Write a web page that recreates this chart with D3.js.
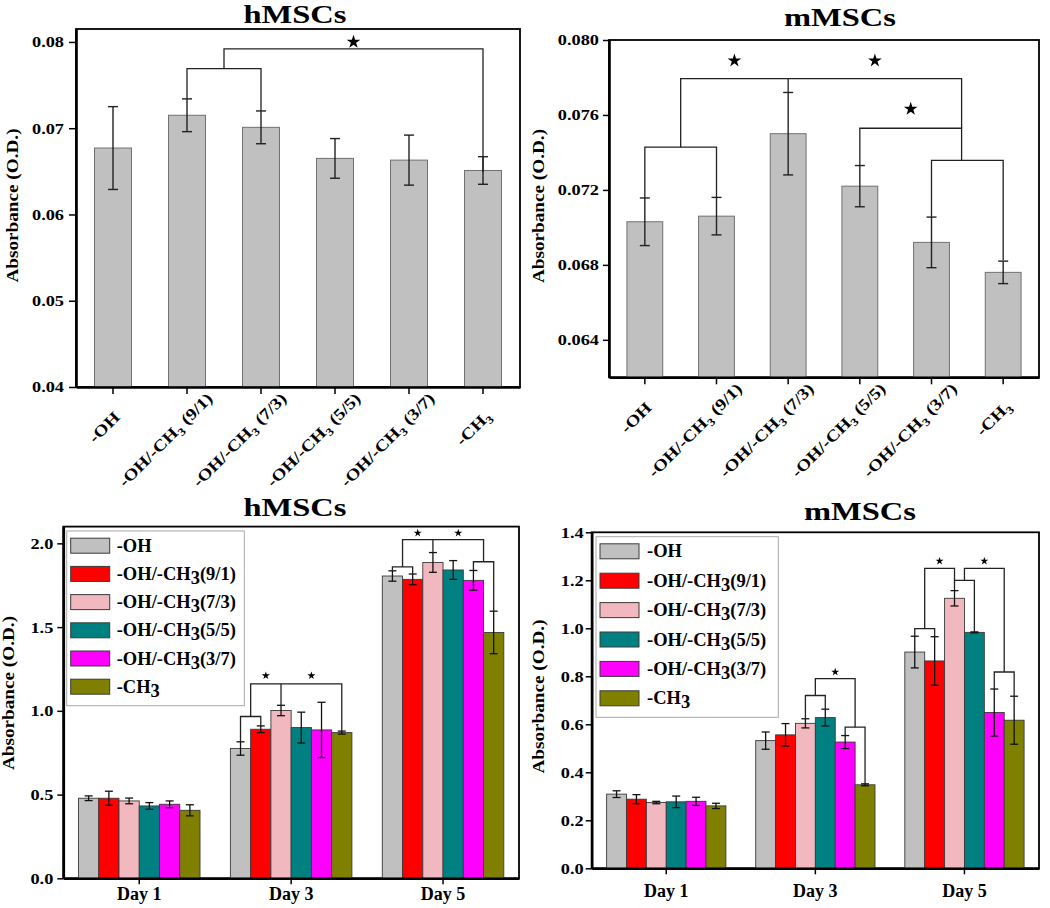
<!DOCTYPE html>
<html><head><meta charset="utf-8">
<script src="https://cdn.jsdelivr.net/npm/d3@7"></script>
<style>
body{margin:0;background:#fff}
svg{display:block}
text{font-family:"Liberation Serif","Times New Roman",serif;font-weight:bold;fill:#000}
</style>
</head><body>
<svg id="c" width="1050" height="908"></svg>
<script>
// ---------------- data ----------------
const categories = ["-OH","-OH/-CH3 (9/1)","-OH/-CH3 (7/3)","-OH/-CH3 (5/5)","-OH/-CH3 (3/7)","-CH3"];
const legendLabels = ["-OH","-OH/-CH3(9/1)","-OH/-CH3(7/3)","-OH/-CH3(5/5)","-OH/-CH3(3/7)","-CH3"];
const days = ["Day 1","Day 3","Day 5"];
const seriesColors = ["#c0c0c0","#ff0000","#f2b8c0","#008080","#ff00ff","#808000"];
const yTitle = "Absorbance (O.D.)";

// top panels (single series)
const hTopMean = [0.0677, 0.0715, 0.0701, 0.0665, 0.0663, 0.0651];
const hTopErr  = [0.0048, 0.0019, 0.0019, 0.0023, 0.0029, 0.0016];
const hTopTicks = [0.04, 0.05, 0.06, 0.07, 0.08];
const mTopMean = [0.0703, 0.0706, 0.0750, 0.0722, 0.0692, 0.0676];
const mTopErr  = [0.00127, 0.0010, 0.0022, 0.0011, 0.00135, 0.0006];
const mTopTicks = [0.064, 0.068, 0.072, 0.076, 0.080];

// bottom panels (grouped by day, 6 series)
const hDay1Mean = [0.478, 0.478, 0.462, 0.432, 0.442, 0.406];
const hDay1Err  = [0.014, 0.042, 0.017, 0.020, 0.020, 0.033];
const hDay3Mean = [0.775, 0.890, 1.002, 0.900, 0.886, 0.870];
const hDay3Err  = [0.040, 0.020, 0.031, 0.092, 0.165, 0.009];
const hDay5Mean = [1.805, 1.785, 1.886, 1.841, 1.779, 1.468];
const hDay5Err  = [0.031, 0.032, 0.059, 0.056, 0.059, 0.127];
const hBottomTicks = [0.0, 0.5, 1.0, 1.5, 2.0];

const mDay1Mean = [0.309, 0.288, 0.274, 0.277, 0.279, 0.260];
const mDay1Err  = [0.014, 0.019, 0.005, 0.024, 0.017, 0.011];
const mDay3Mean = [0.532, 0.556, 0.604, 0.628, 0.526, 0.348];
const mDay3Err  = [0.036, 0.047, 0.019, 0.035, 0.027, 0.004];
const mDay5Mean = [0.901, 0.864, 1.125, 0.983, 0.649, 0.617];
const mDay5Err  = [0.066, 0.101, 0.032, 0.002, 0.098, 0.100];
const mBottomTicks = [0.0, 0.2, 0.4, 0.6, 0.8, 1.0, 1.2, 1.4];

// significance brackets: x1,x2 = bar index (fractional = between bars), y = bracket level, b1/b2 = leg ends
const hTopBrackets = [
  {x1:1, x2:2, y:0.0769, b1:0.0734, b2:0.0720, drops:[]},
  {x1:1.5, x2:5, y:0.0792, b1:0.0769, b2:0.0649, drops:[]}
];
const hTopStars = [[3.25, 0.0800]];
const mTopBrackets = [
  {x1:0, x2:1, y:0.07428, b1:0.07156, b2:0.07159, drops:[]},
  {x1:4, x2:5, y:0.07358, b1:0.07056, b2:0.06825, drops:[]},
  {x1:3, x2:4.42, y:0.07529, b1:0.07332, b2:0.07358, drops:[]},
  {x1:0.5, x2:4.42, y:0.07794, b1:0.07428, b2:0.07529, drops:[[2, 0.07721]]}
];
const mTopStars = [[1.25, 0.0789], [3.21, 0.0789], [3.71, 0.07632]];

const hBottomBrackets = [
  {g:1, x1:0, x2:1, y:0.966, b1:0.815, b2:0.910, drops:[]},
  {g:1, x1:0.5, x2:5, y:1.161, b1:0.966, b2:0.879, drops:[[2, 1.033]]},
  {g:2, x1:0, x2:1, y:1.859, b1:1.836, b2:1.817, drops:[]},
  {g:2, x1:4, x2:5, y:1.890, b1:1.838, b2:1.595, drops:[]},
  {g:2, x1:0.5, x2:4.5, y:2.022, b1:1.859, b2:1.890, drops:[[2, 1.945]]}
];
const hBottomStars = [[1, 1.25, 1.21], [1, 3.5, 1.21], [2, 1.25, 2.062], [2, 3.25, 2.062]];
const mBottomBrackets = [
  {g:1, x1:2, x2:3, y:0.720, b1:0.623, b2:0.663, drops:[]},
  {g:1, x1:4, x2:5, y:0.588, b1:0.553, b2:0.352, drops:[]},
  {g:1, x1:2.5, x2:4.5, y:0.790, b1:0.720, b2:0.588, drops:[]},
  {g:2, x1:0, x2:1, y:0.999, b1:0.967, b2:0.965, drops:[]},
  {g:2, x1:2, x2:3, y:1.200, b1:1.157, b2:0.985, drops:[]},
  {g:2, x1:4, x2:5, y:0.818, b1:0.747, b2:0.717, drops:[]},
  {g:2, x1:0.5, x2:2, y:1.250, b1:0.999, b2:1.200, drops:[]},
  {g:2, x1:2.5, x2:4.5, y:1.250, b1:1.200, b2:0.818, drops:[]}
];
const mBottomStars = [[1, 3.5, 0.818], [2, 1.25, 1.28], [2, 3.5, 1.28]];

// ---------------- helpers ----------------
const svg = d3.select("#c");

function stretch(el, k){
  const L = el.getComputedTextLength();
  el.setAttribute("textLength", L * k);
  el.setAttribute("lengthAdjust", "spacingAndGlyphs");
  return L * k;
}
function addChem(t, str, subSize, shift){
  const parts = str.split(/(?<=CH)3/);
  parts.forEach((p, i) => {
    if (i > 0) {
      const s = t.append("tspan").attr("dy", shift).text("3");
      if (subSize) s.style("font-size", subSize);
      if (p) t.append("tspan").attr("dy", -shift).text(p);
    } else if (p) {
      t.append("tspan").text(p);
    }
  });
}
function styleAxis(a, domainW){
  a.attr("font-family", null).attr("font-size", null);
  a.select(".domain").attr("stroke", "#000").attr("stroke-width", domainW);
  a.selectAll(".tick line").attr("stroke", "#000").attr("stroke-width", 1.5);
}
function yAxisAndTitles(c, y){
  const a = svg.append("g").attr("transform", `translate(${c.L},0)`)
    .call(d3.axisLeft(y).tickValues(c.ticks).tickFormat(d3.format(c.fmt))
      .tickSize(c.tickLen).tickPadding(c.tickPad).tickSizeOuter(0));
  styleAxis(a, 2.6);
  a.selectAll(".tick text").style("font-size", "15.5px").each(function(){ stretch(this, 1.18); });
  const yl = svg.append("text").attr("transform", `translate(${c.ylx},${c.yly}) rotate(-90)`)
    .attr("text-anchor", "middle").style("font-size", "16px").text(yTitle);
  stretch(yl.node(), 1.2);
  const tt = svg.append("text").attr("x", c.tx).attr("y", c.ty).attr("text-anchor", "middle")
    .style("font-size", "26px").text(c.title);
  stretch(tt.node(), 1.25);
}
function star(g, x, y, size){
  g.append("path").attr("d", d3.symbol(d3.symbolStar).size(size)())
    .attr("transform", `translate(${x},${y})`).attr("fill", "#000");
}
function drawBrackets(g, list, xf, y){
  list.forEach(b => {
    const x1 = xf(b), x2 = xf({...b, x1:b.x2});
    g.append("path")
      .attr("d", `M${x1},${y(b.b1)}V${y(b.y)}H${x2}V${y(b.b2)}`)
      .attr("fill", "none").attr("stroke", "#222").attr("stroke-width", 1.3);
    b.drops.forEach(dp => {
      const xd = xf({...b, x1:dp[0]});
      g.append("path").attr("d", `M${xd},${y(b.y)}V${y(dp[1])}`)
        .attr("fill", "none").attr("stroke", "#222").attr("stroke-width", 1.3);
    });
  });
}

// ---------------- top panels ----------------
function drawTop(c){
  const g = svg.append("g");
  const x = d3.scaleBand().domain(d3.range(categories.length)).range([c.L, c.R]).paddingInner(0.5).paddingOuter(0.25);
  const y = d3.scaleLinear().domain(c.domain).range([c.B, c.T]);
  const bw = x.bandwidth(), step = x.step();
  const xc = s => x(0) + bw / 2 + s * step;

  g.append("rect").attr("x", c.L).attr("y", c.T).attr("width", c.R - c.L).attr("height", c.B - c.T)
    .attr("fill", "none").attr("stroke", "#000").attr("stroke-width", 1.8);

  g.selectAll(null).data(c.mean).join("rect")
    .attr("x", (d, i) => x(i)).attr("y", d => y(d)).attr("width", bw)
    .attr("height", d => y(c.domain[0]) - y(d))
    .attr("fill", seriesColors[0]).attr("stroke", "#707070").attr("stroke-width", 1);

  const eb = g.selectAll(null).data(c.mean.map((m, i) => ({m, e:c.err[i], i}))).join("g");
  eb.append("line").attr("x1", d => xc(d.i)).attr("x2", d => xc(d.i))
    .attr("y1", d => y(d.m - d.e)).attr("y2", d => y(d.m + d.e));
  eb.append("line").attr("x1", d => xc(d.i) - 5).attr("x2", d => xc(d.i) + 5)
    .attr("y1", d => y(d.m + d.e)).attr("y2", d => y(d.m + d.e));
  eb.append("line").attr("x1", d => xc(d.i) - 5).attr("x2", d => xc(d.i) + 5)
    .attr("y1", d => y(d.m - d.e)).attr("y2", d => y(d.m - d.e));
  eb.selectAll("line").attr("stroke", "#222").attr("stroke-width", 1.4);

  drawBrackets(g, c.brackets, b => xc(b.x1), y);
  c.stars.forEach(s => star(g, xc(s[0]), y(s[1]), 58));

  const xa = svg.append("g").attr("transform", `translate(0,${c.B})`)
    .call(d3.axisBottom(x).tickSize(7).tickSizeOuter(0));
  styleAxis(xa, 2.6);
  xa.selectAll(".tick text").each(function(d){
    const t = d3.select(this);
    t.text(null).attr("y", null).attr("dy", null).attr("text-anchor", "start").style("font-size", "16px");
    addChem(t, categories[d], "11px", 4);
    const L = stretch(this, 1.2);
    t.attr("x", -0.7 * L).attr("transform", `translate(0,39) rotate(-45)`);
  });
  yAxisAndTitles(c, y);
}

drawTop({L:76, R:520, T:29, B:387, domain:[0.04, 0.0815], ticks:hTopTicks, fmt:".2f",
  tickLen:7, tickPad:5, mean:hTopMean, err:hTopErr, brackets:hTopBrackets, stars:hTopStars,
  title:"hMSCs", tx:295, ty:22.5, ylx:17.5, yly:205.5});
drawTop({L:609, R:1039, T:40, B:377.3, domain:[0.062, 0.080], ticks:mTopTicks, fmt:".3f",
  tickLen:6, tickPad:4, mean:mTopMean, err:mTopErr, brackets:mTopBrackets, stars:mTopStars,
  title:"mMSCs", tx:840, ty:26, ylx:544, yly:206});

// ---------------- bottom panels ----------------
function drawBottom(c){
  const g = svg.append("g");
  const x0 = d3.scaleBand().domain(days).range([c.L, c.R]).paddingInner(0.2).paddingOuter(0.1);
  const x1 = d3.scaleBand().domain(d3.range(legendLabels.length)).range([0, x0.bandwidth()]);
  const y = d3.scaleLinear().domain(c.domain).range([c.B, c.T]);
  const bw = x1.bandwidth();
  const xs = (gi, s) => x0(days[gi]) + bw * (s + 0.5);

  g.append("rect").attr("x", c.L).attr("y", c.T).attr("width", c.R - c.L).attr("height", c.B - c.T)
    .attr("fill", "none").attr("stroke", "#000").attr("stroke-width", 1.8);

  const flat = [];
  c.means.forEach((arr, gi) => arr.forEach((m, s) => flat.push({gi, s, m, e:c.errs[gi][s]})));

  g.selectAll(null).data(flat).join("rect")
    .attr("x", d => x0(days[d.gi]) + x1(d.s)).attr("y", d => y(d.m))
    .attr("width", bw).attr("height", d => y(0) - y(d.m))
    .attr("fill", d => seriesColors[d.s]).attr("stroke", "#3a3a3a").attr("stroke-width", 0.9);

  const eb = g.selectAll(null).data(flat).join("g");
  eb.append("line").attr("x1", d => xs(d.gi, d.s)).attr("x2", d => xs(d.gi, d.s))
    .attr("y1", d => y(d.m - d.e)).attr("y2", d => y(d.m + d.e));
  eb.append("line").attr("x1", d => xs(d.gi, d.s) - 4).attr("x2", d => xs(d.gi, d.s) + 4)
    .attr("y1", d => y(d.m + d.e)).attr("y2", d => y(d.m + d.e));
  eb.append("line").attr("x1", d => xs(d.gi, d.s) - 4).attr("x2", d => xs(d.gi, d.s) + 4)
    .attr("y1", d => y(d.m - d.e)).attr("y2", d => y(d.m - d.e));
  eb.selectAll("line").attr("stroke", "#111").attr("stroke-width", 1.3);

  drawBrackets(g, c.brackets, b => xs(b.g, b.x1), y);
  c.stars.forEach(s => star(g, xs(s[0], s[1]), y(s[2]), 20));

  const xa = svg.append("g").attr("transform", `translate(0,${c.B})`)
    .call(d3.axisBottom(x0).tickSize(6).tickSizeOuter(0));
  styleAxis(xa, 2.6);
  xa.selectAll(".tick text").attr("dy", null).attr("y", c.dayY).style("font-size", "18px");

  // legend
  const lg = svg.append("g");
  lg.append("rect").attr("x", c.lx).attr("y", c.ly).attr("width", c.lw).attr("height", c.lh)
    .attr("fill", "#fff").attr("stroke", "#a8a8a8").attr("stroke-width", 1);
  legendLabels.forEach((lab, i) => {
    const cy = c.ly + c.row0 + i * c.rowStep;
    lg.append("rect").attr("x", c.lx + 4).attr("y", cy - 7.5).attr("width", 39).attr("height", 15)
      .attr("fill", seriesColors[i]).attr("stroke", "#3a3a3a").attr("stroke-width", 1);
    const t = lg.append("text").attr("x", c.lx + c.textOff).attr("y", cy + 6).style("font-size", "18.5px");
    addChem(t, lab, null, 4);
  });
  yAxisAndTitles(c, y);
}

drawBottom({L:63.3, R:519, T:526.6, B:878.3, domain:[0, 2.1], ticks:hBottomTicks, fmt:".1f",
  tickLen:6, tickPad:4, means:[hDay1Mean, hDay3Mean, hDay5Mean], errs:[hDay1Err, hDay3Err, hDay5Err],
  brackets:hBottomBrackets, stars:hBottomStars, dayY:22,
  lx:66.7, ly:531, lw:177.6, lh:174.7, row0:14.7, rowStep:28.2, textOff:50,
  title:"hMSCs", tx:295, ty:516, ylx:14, yly:693});
drawBottom({L:591.7, R:1039, T:532.3, B:868.3, domain:[0, 1.4], ticks:mBottomTicks, fmt:".1f",
  tickLen:6, tickPad:2, means:[mDay1Mean, mDay3Mean, mDay5Mean], errs:[mDay1Err, mDay3Err, mDay5Err],
  brackets:mBottomBrackets, stars:mBottomStars, dayY:28.5,
  lx:596, ly:536.7, lw:182.3, lh:180.6, row0:14.6, rowStep:29.4, textOff:51,
  title:"mMSCs", tx:860, ty:520, ylx:544, yly:696.5});
</script>
</body></html>
